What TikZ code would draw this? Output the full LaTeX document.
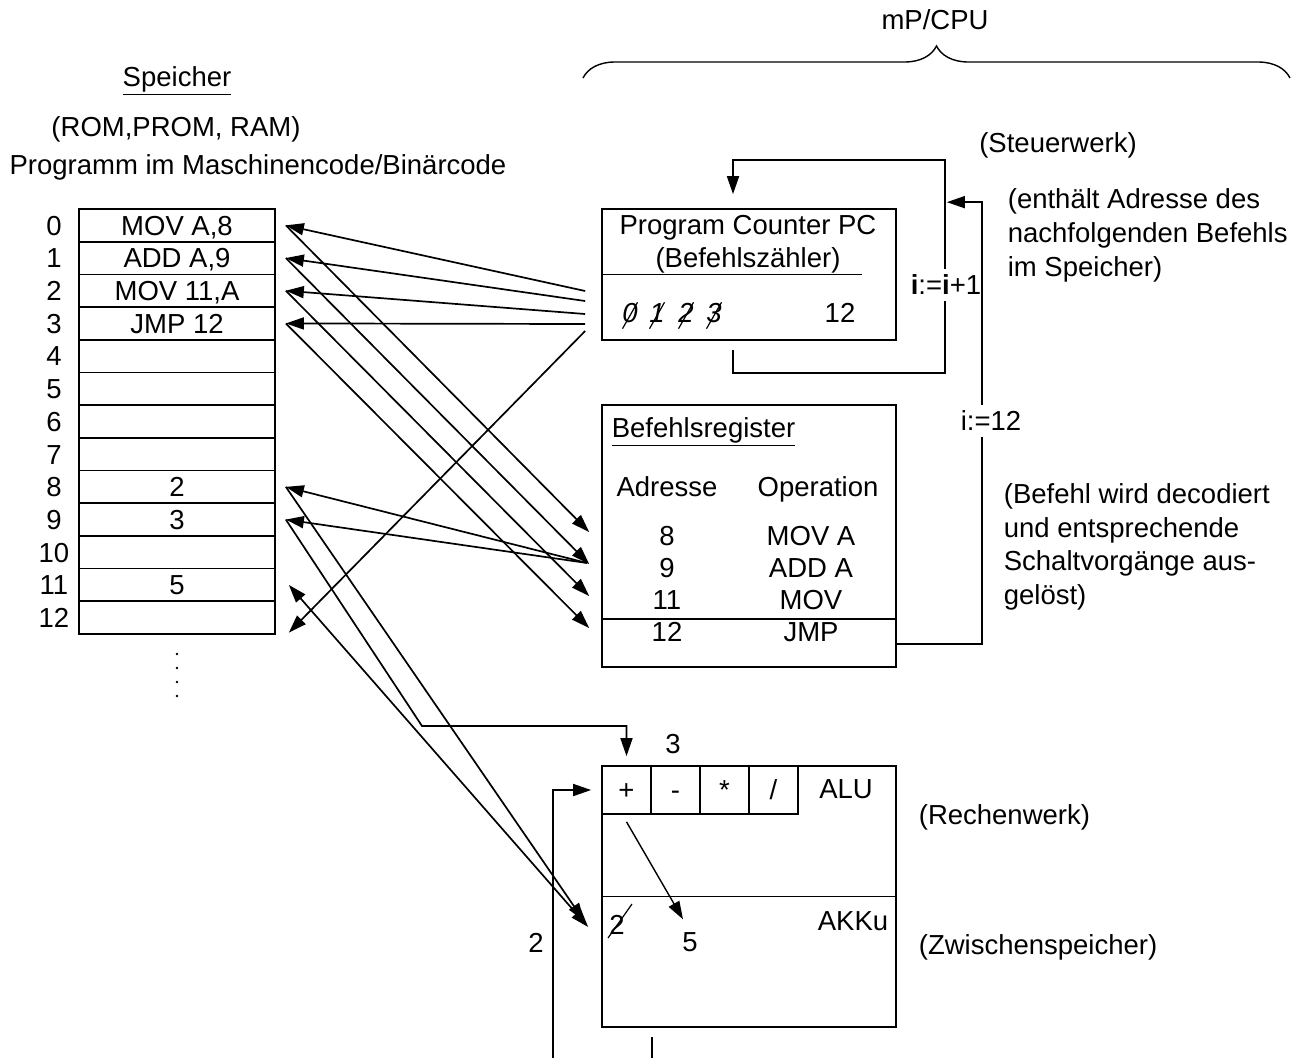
\documentclass[tikz,border=0pt]{standalone}
\usepackage{fontspec}
\setmainfont{Liberation Sans}
\usetikzlibrary{calc}
\usetikzlibrary{arrows.meta}
\usetikzlibrary{decorations.pathreplacing}

\begin{document}
\begin{tikzpicture}[x=1pt,y=-1pt,line width=1.7pt,
  font=\fontsize{27.5}{33}\selectfont,
  >={Triangle[length=18pt,width=12pt]},
  lbl/.style={inner sep=0pt,text height=19.7pt,text depth=0pt},
  cell/.style={draw,lbl,minimum width=196pt,minimum height=32.69pt},
  opcell/.style={draw,lbl,minimum width=49pt,minimum height=48pt},
  tag/.style={lbl,fill=white,inner xsep=2pt,inner ysep=6pt}]
\useasboundingbox (0,0) rectangle (1308,1058);

\node[lbl] (spm) at (177,77) {\underline{Speicher}};
\node[lbl] (rom) at (176,127) {(ROM,PROM, RAM)};
\node[lbl] (prg) at (258,165) {Programm im Maschinencode/Binärcode};
\foreach \i/\t in {0/{MOV A,8},1/{ADD A,9},2/{MOV 11,A},3/{JMP 12},4/{},5/{},6/{},7/{},8/2,9/3,10/{},11/5,12/{}} {
  \node[cell] (m\i) at (177,{225.35+32.69*\i}) {\t};
  \node[lbl] (n\i) at (54,{225.35+32.69*\i}) {\i};
}
\foreach \y in {654,668,682,696} \fill (177,\y) circle (1.3);

\node[lbl] (cpu) at (935,20) {mP/CPU};
\draw[line width=1.4pt,decorate,decoration={brace,amplitude=32pt}] (583,78) -- (1290,78);
\node[lbl] (stw) at (1058,143) {(Steuerwerk)};
\foreach \t [count=\k from 0] in {{(enthält Adresse des},{nachfolgenden Befehls},{im Speicher)}}
  \node[lbl,anchor=west] (pcinfo\k) at (1007,{199+34*\k}) {\t};
\foreach \t [count=\k from 0] in {{(Befehl wird decodiert},{und entsprechende},{Schaltvorgänge aus-},{gelöst)}}
  \node[lbl,anchor=west] (irinfo\k) at (1003,{494+33.5*\k}) {\t};
\node[lbl,anchor=west] (rw) at (918,815) {(Rechenwerk)};
\node[lbl,anchor=west] (zw) at (918,945) {(Zwischenspeicher)};

\node[draw,minimum width=294pt,minimum height=131pt] (pc) at (749,274.5) {};
\node[lbl] (pct) at (748,225) {Program Counter PC};
\node[lbl] (pcb) at (748,258) {(Befehlszähler)};
\draw (pc.west) -- ++(261,0);
\foreach \d/\x in {0/630,1/657,2/686,3/714} {
  \node[lbl] (pd\d) at (\x,313) {\itshape\d};
  \draw[line width=1.2pt] ([xshift=1pt,yshift=-5pt]pd\d.south west) -- ([xshift=-1pt]pd\d.north east);
}
\node[lbl] (pc12) at (840,313) {12};

\node[draw,minimum width=294pt,minimum height=262pt] (ir) at (749,536) {};
\node[lbl,anchor=west] (irt) at (611,428) {\underline{Befehlsregister}};
\node[lbl] (adr) at (667,487) {Adresse};
\node[lbl] (opr) at (818,487) {Operation};
\foreach \a/\o/\y in {8/MOV A/536,9/ADD A/568,11/MOV/600,12/JMP/632} {
  \node[lbl] (ad\a) at (667,\y) {\a};
  \node[lbl] (op\a) at (811,\y) {\o};
}
\draw ($(ir.south west)+(0,-49)$) -- ($(ir.south east)+(0,-49)$);

\node[draw,minimum width=294pt,minimum height=261pt] (alu) at (749,896.5) {};
\draw (alu.west) -- (alu.east);
\foreach \o [count=\k from 0] in {+,-,*,/}
  \node[opcell] (aluop\k) at ({626.5+49*\k},790) {\o};
\node[lbl] (alul) at (846,789) {ALU};
\node[lbl,anchor=east] (akl) at (889,921) {AKKu};
\node[lbl] (ak2) at (617,925) {2};
\draw[line width=1.2pt] ([xshift=-9pt,yshift=-13pt]ak2.center) -- ([xshift=15pt,yshift=21pt]ak2.center);
\node[lbl] (ak5) at (690,942) {5};
\draw[->,line width=1.4pt] ([yshift=-7pt]aluop0.south) -- ([xshift=-7pt,yshift=12pt]ak5.north);
\node[lbl] (v3) at (673,744) {3};
\node[lbl] (v2) at (536,943) {2};

\foreach \i/\dy in {0/16.5,1/26.5,2/39.5,3/49.5,4/56.5}
  \coordinate (p\i) at ($(pc.west)+(-16,\dy)$);
\foreach \i in {0,...,3}
  \draw[->] (p\i) -- ([xshift=10pt]m\i.east);
\draw[->] (p4) -- ($(m12.east)+(13,15)$);
\foreach \i/\j in {0/8,1/9,2/11,3/12}
  \draw[->] ([xshift=10pt]m\i.east) -- ($(ir.west |- ad\j)+(-12,-4)$);
\coordinate (irl) at ($(ir.west |- ad9)+(-14,-5)$);
\foreach \i in {8,9}
  \draw[->] (irl) -- ([xshift=10pt]m\i.east);

\coordinate (ak8) at ($(alu.west)+(-17,24.5)$);
\coordinate (ak11) at ($(alu.west)+(-13,30.5)$);
\draw[->] ([xshift=10pt]m8.east) -- (ak8);
\draw[<->] ([xshift=13pt]m11.east) -- (ak11);
\coordinate (c3) at (422,726);
\draw[->] ([xshift=10pt]m9.east) -- (c3) -| ([yshift=9pt]aluop0.north);
\coordinate (c2) at (553,1058);
\draw[->] (c2) |- ([xshift=-10pt]aluop0.west);
\coordinate (c5) at (652,1058);
\draw (c5) -- ++(0,-21);

\draw[->] ($(pc.south)+(-16,9)$) |- ($(pc.south east)+(48,32)$) |- ($(pc.north)+(-16,-48)$) -- ($(pc.north)+(-16,-14)$);
\node[tag] (inc) at (946,285) {\textbf{i}:=\textbf{i}+1};
\draw[->] ($(ir.south east)+(0,-24)$) -| ($(pc.north east)+(85,-6)$) -- ($(pc.north east)+(50,-6)$);
\node[tag] (set) at (991,421) {i:=12};
\end{tikzpicture}
\end{document}
